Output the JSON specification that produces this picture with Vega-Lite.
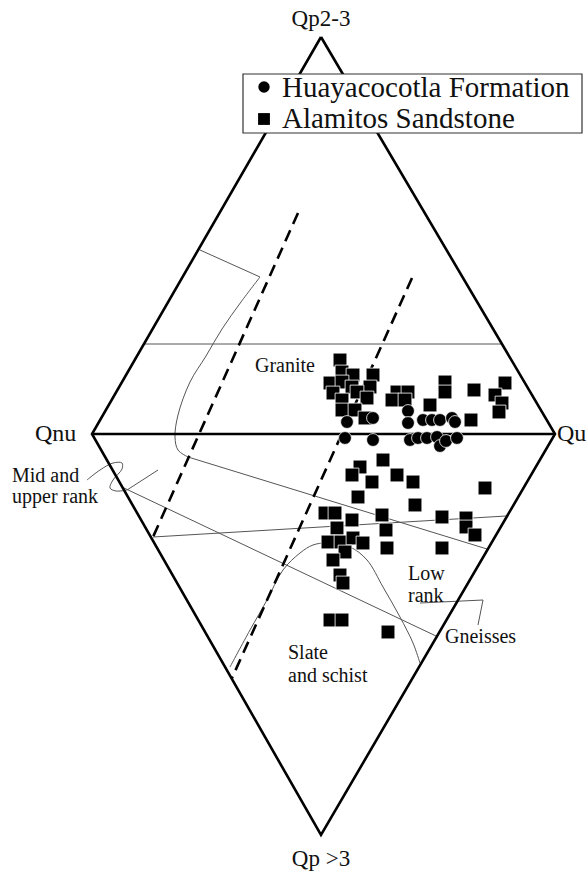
{
  "$schema": "https://vega.github.io/schema/vega-lite/v6.json",
  "width": 588,
  "height": 873,
  "padding": 0,
  "autosize": "none",
  "background": "white",
  "config": {"view": {"stroke": null}},
  "datasets": {
    "outline": [
      {"id": "o", "o": 1, "x": 321, "y": 37},
      {"id": "o", "o": 2, "x": 555, "y": 434},
      {"id": "o", "o": 3, "x": 321, "y": 835},
      {"id": "o", "o": 4, "x": 92, "y": 434},
      {"id": "o", "o": 5, "x": 321, "y": 37},
      {"id": "h", "o": 1, "x": 92, "y": 434},
      {"id": "h", "o": 2, "x": 555, "y": 434}
    ],
    "dashed": [
      {"id": "d1", "o": 1, "x": 298, "y": 213},
      {"id": "d1", "o": 2, "x": 153, "y": 537},
      {"id": "d2", "o": 1, "x": 412, "y": 278},
      {"id": "d2", "o": 2, "x": 232, "y": 678}
    ],
    "thin": [
      {"id": "t1", "o": 1, "x": 144, "y": 344},
      {"id": "t1", "o": 2, "x": 502, "y": 344},
      {"id": "t2", "o": 1, "x": 200, "y": 250},
      {"id": "t2", "o": 2, "x": 260, "y": 277},
      {"id": "t3", "o": 1, "x": 188, "y": 457},
      {"id": "t3", "o": 2, "x": 487, "y": 549},
      {"id": "t4", "o": 1, "x": 124, "y": 488},
      {"id": "t4", "o": 2, "x": 436, "y": 636},
      {"id": "t5", "o": 1, "x": 153, "y": 537},
      {"id": "t5", "o": 2, "x": 506, "y": 516},
      {"id": "t6", "o": 1, "x": 127, "y": 490},
      {"id": "t6", "o": 2, "x": 158, "y": 470},
      {"id": "t7", "o": 1, "x": 420, "y": 603},
      {"id": "t7", "o": 2, "x": 483, "y": 600},
      {"id": "t7", "o": 3, "x": 478, "y": 625}
    ],
    "curves": [
      {"id": "c1", "o": 1, "x": 260, "y": 277},
      {"id": "c1", "o": 2, "x": 241, "y": 302},
      {"id": "c1", "o": 3, "x": 222, "y": 329},
      {"id": "c1", "o": 4, "x": 206, "y": 356},
      {"id": "c1", "o": 5, "x": 190, "y": 382},
      {"id": "c1", "o": 6, "x": 178, "y": 415},
      {"id": "c1", "o": 7, "x": 175, "y": 437},
      {"id": "c1", "o": 8, "x": 178, "y": 450},
      {"id": "c1", "o": 9, "x": 188, "y": 457},
      {"id": "c2", "o": 1, "x": 230, "y": 667},
      {"id": "c2", "o": 2, "x": 250, "y": 630},
      {"id": "c2", "o": 3, "x": 267, "y": 600},
      {"id": "c2", "o": 4, "x": 283, "y": 570},
      {"id": "c2", "o": 5, "x": 300, "y": 553},
      {"id": "c2", "o": 6, "x": 313, "y": 545},
      {"id": "c2", "o": 7, "x": 327, "y": 543},
      {"id": "c2", "o": 8, "x": 350, "y": 547},
      {"id": "c2", "o": 9, "x": 367, "y": 560},
      {"id": "c2", "o": 10, "x": 383, "y": 587},
      {"id": "c2", "o": 11, "x": 400, "y": 617},
      {"id": "c2", "o": 12, "x": 413, "y": 643},
      {"id": "c2", "o": 13, "x": 420, "y": 663},
      {"id": "c3", "o": 1, "x": 87, "y": 480},
      {"id": "c3", "o": 2, "x": 100, "y": 470},
      {"id": "c3", "o": 3, "x": 113, "y": 463},
      {"id": "c3", "o": 4, "x": 122, "y": 463},
      {"id": "c3", "o": 5, "x": 122, "y": 469},
      {"id": "c3", "o": 6, "x": 113, "y": 480},
      {"id": "c3", "o": 7, "x": 110, "y": 488},
      {"id": "c3", "o": 8, "x": 116, "y": 491},
      {"id": "c3", "o": 9, "x": 127, "y": 490}
    ],
    "squares": [
      {"x": 340, "y": 360}, {"x": 342, "y": 372}, {"x": 353, "y": 375}, {"x": 373, "y": 375},
      {"x": 330, "y": 383}, {"x": 342, "y": 382}, {"x": 352, "y": 387}, {"x": 370, "y": 387},
      {"x": 333, "y": 393}, {"x": 357, "y": 392}, {"x": 367, "y": 398}, {"x": 342, "y": 400},
      {"x": 342, "y": 410}, {"x": 355, "y": 410}, {"x": 365, "y": 418}, {"x": 397, "y": 392},
      {"x": 408, "y": 392}, {"x": 392, "y": 400}, {"x": 405, "y": 400}, {"x": 430, "y": 405},
      {"x": 445, "y": 382}, {"x": 445, "y": 392}, {"x": 474, "y": 390}, {"x": 505, "y": 383},
      {"x": 495, "y": 395}, {"x": 502, "y": 403}, {"x": 499, "y": 412}, {"x": 471, "y": 420},
      {"x": 360, "y": 467}, {"x": 383, "y": 460}, {"x": 352, "y": 475}, {"x": 372, "y": 482},
      {"x": 397, "y": 475}, {"x": 413, "y": 482}, {"x": 485, "y": 488}, {"x": 358, "y": 497},
      {"x": 415, "y": 505}, {"x": 325, "y": 513}, {"x": 335, "y": 513}, {"x": 382, "y": 515},
      {"x": 352, "y": 520}, {"x": 442, "y": 517}, {"x": 466, "y": 518}, {"x": 466, "y": 527},
      {"x": 337, "y": 528}, {"x": 386, "y": 530}, {"x": 475, "y": 535}, {"x": 328, "y": 542},
      {"x": 341, "y": 542}, {"x": 353, "y": 538}, {"x": 363, "y": 543}, {"x": 345, "y": 552},
      {"x": 387, "y": 548}, {"x": 442, "y": 548}, {"x": 333, "y": 560}, {"x": 340, "y": 575},
      {"x": 343, "y": 583}, {"x": 330, "y": 620}, {"x": 342, "y": 620}, {"x": 388, "y": 632}
    ],
    "circles": [
      {"x": 347, "y": 422}, {"x": 373, "y": 418}, {"x": 408, "y": 411}, {"x": 408, "y": 423},
      {"x": 423, "y": 420}, {"x": 432, "y": 420}, {"x": 440, "y": 420}, {"x": 452, "y": 418},
      {"x": 455, "y": 422}, {"x": 345, "y": 438}, {"x": 373, "y": 440}, {"x": 410, "y": 440},
      {"x": 418, "y": 438}, {"x": 427, "y": 438}, {"x": 437, "y": 437}, {"x": 440, "y": 446},
      {"x": 446, "y": 441}, {"x": 457, "y": 438}
    ],
    "legendbox": [{"x": 243, "x2": 582, "y": 74, "y2": 133}],
    "legendsym": [
      {"kind": "Huayacocotla Formation", "x": 264, "y": 87},
      {"kind": "Alamitos Sandstone", "x": 264, "y": 119}
    ],
    "legendtext": [
      {"t": "Huayacocotla Formation", "x": 282, "y": 97},
      {"t": "Alamitos Sandstone", "x": 282, "y": 128}
    ],
    "vertexc": [
      {"t": "Qp2-3", "x": 321, "y": 26},
      {"t": "Qp >3", "x": 321, "y": 866}
    ],
    "vertexl": [
      {"t": "Qnu", "x": 35, "y": 441},
      {"t": "Qu", "x": 557, "y": 441}
    ],
    "regions": [
      {"t": "Granite", "x": 255, "y": 372},
      {"t": "Mid and", "x": 12, "y": 482},
      {"t": "upper rank", "x": 12, "y": 503},
      {"t": "Low", "x": 408, "y": 580},
      {"t": "rank", "x": 408, "y": 602},
      {"t": "Gneisses", "x": 445, "y": 643},
      {"t": "Slate", "x": 288, "y": 659},
      {"t": "and schist", "x": 288, "y": 682}
    ]
  },
  "encoding": {
    "x": {"field": "x", "type": "quantitative", "scale": {"domain": [0, 588], "nice": false, "zero": false}, "axis": null},
    "y": {"field": "y", "type": "quantitative", "scale": {"domain": [0, 873], "nice": false, "zero": false, "reverse": true}, "axis": null}
  },
  "layer": [
    {
      "data": {"name": "thin"},
      "mark": {"type": "line", "stroke": "#555555", "strokeWidth": 1},
      "encoding": {"detail": {"field": "id"}, "order": {"field": "o", "type": "quantitative"}}
    },
    {
      "data": {"name": "curves"},
      "mark": {"type": "line", "stroke": "#555555", "strokeWidth": 1, "interpolate": "catmull-rom"},
      "encoding": {"detail": {"field": "id"}, "order": {"field": "o", "type": "quantitative"}}
    },
    {
      "data": {"name": "dashed"},
      "mark": {"type": "line", "stroke": "black", "strokeWidth": 2.6, "strokeDash": [12, 7]},
      "encoding": {"detail": {"field": "id"}, "order": {"field": "o", "type": "quantitative"}}
    },
    {
      "data": {"name": "outline"},
      "mark": {"type": "line", "stroke": "black", "strokeWidth": 2.6, "strokeJoin": "miter"},
      "encoding": {"detail": {"field": "id"}, "order": {"field": "o", "type": "quantitative"}}
    },
    {
      "data": {"name": "squares"},
      "mark": {"type": "point", "shape": "square", "filled": true, "fill": "black", "stroke": "white", "strokeWidth": 0.8, "opacity": 1, "size": 190}
    },
    {
      "data": {"name": "circles"},
      "mark": {"type": "circle", "fill": "black", "stroke": "white", "strokeWidth": 0.8, "opacity": 1, "size": 165}
    },
    {
      "data": {"name": "legendbox"},
      "mark": {"type": "rect", "fill": "white", "stroke": "#333333", "strokeWidth": 1.2},
      "encoding": {"x2": {"field": "x2"}, "y2": {"field": "y2"}}
    },
    {
      "data": {"name": "legendsym"},
      "transform": [{"filter": "datum.kind == 'Huayacocotla Formation'"}],
      "mark": {"type": "circle", "fill": "black", "opacity": 1, "size": 130}
    },
    {
      "data": {"name": "legendsym"},
      "transform": [{"filter": "datum.kind == 'Alamitos Sandstone'"}],
      "mark": {"type": "point", "shape": "square", "filled": true, "fill": "black", "opacity": 1, "size": 140}
    },
    {
      "data": {"name": "legendtext"},
      "mark": {"type": "text", "align": "left", "baseline": "alphabetic", "font": "Liberation Serif", "fontSize": 29, "fill": "#111111"},
      "encoding": {"text": {"field": "t"}}
    },
    {
      "data": {"name": "vertexc"},
      "mark": {"type": "text", "align": "center", "baseline": "alphabetic", "font": "Liberation Serif", "fontSize": 23, "fill": "#111111"},
      "encoding": {"text": {"field": "t"}}
    },
    {
      "data": {"name": "vertexl"},
      "mark": {"type": "text", "align": "left", "baseline": "alphabetic", "font": "Liberation Serif", "fontSize": 24, "fill": "#111111"},
      "encoding": {"text": {"field": "t"}}
    },
    {
      "data": {"name": "regions"},
      "mark": {"type": "text", "align": "left", "baseline": "alphabetic", "font": "Liberation Serif", "fontSize": 20, "fill": "#111111"},
      "encoding": {"text": {"field": "t"}}
    }
  ]
}
